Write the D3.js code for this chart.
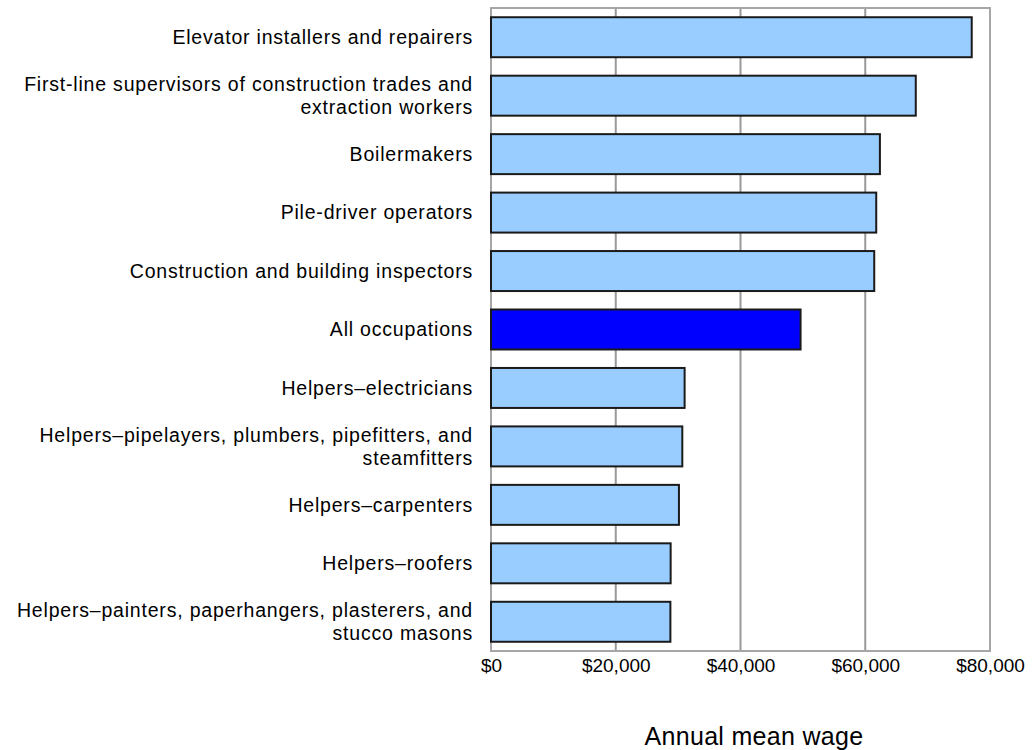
<!DOCTYPE html>
<html><head><meta charset="utf-8">
<script src="https://cdn.jsdelivr.net/npm/d3@7"></script>
<style>
html,body{margin:0;padding:0;background:#fff;}
svg{display:block;}
text{font-family:Arial,"Liberation Sans",sans-serif;fill:#000;}
</style></head>
<body><svg id="chart" width="1034" height="750"></svg>
<script>
const categories = [
  "Elevator installers and repairers",
  "First-line supervisors of construction trades and\nextraction workers",
  "Boilermakers",
  "Pile-driver operators",
  "Construction and building inspectors",
  "All occupations",
  "Helpers\u2013electricians",
  "Helpers\u2013pipelayers, plumbers, pipefitters, and\nsteamfitters",
  "Helpers\u2013carpenters",
  "Helpers\u2013roofers",
  "Helpers\u2013painters, paperhangers, plasterers, and\nstucco masons"
];
const wages = [77070, 68100, 62350, 61760, 61440, 49630, 31040, 30670, 30130, 28800, 28760];
const highlight = ["All occupations"];
const tickValues = [0, 20000, 40000, 60000, 80000];
const tickLabels = ["$0", "$20,000", "$40,000", "$60,000", "$80,000"];
const axisTitle = "Annual mean wage";

const svg = d3.select("#chart");
const L = 491, R = 990, T = 8, B = 651;
const x = d3.scaleLinear().domain([0, 80000]).range([L, R]);
const y = d3.scaleBand().domain(categories).range([T, B]).paddingInner(0.316).paddingOuter(0.158);

// gridlines
svg.append("g").selectAll("line").data(tickValues.slice(1, -1)).join("line")
  .attr("x1", d => x(d)).attr("x2", d => x(d)).attr("y1", T).attr("y2", B)
  .attr("stroke", "#999").attr("stroke-width", 2);

// plot border
svg.append("rect").attr("x", L).attr("y", T).attr("width", R - L).attr("height", B - T)
  .attr("fill", "none").attr("stroke", "#a6a6a6").attr("stroke-width", 2);

// bars
svg.append("g").selectAll("rect").data(categories).join("rect")
  .attr("x", x(0)).attr("y", d => y(d))
  .attr("width", (d, i) => x(wages[i]) - x(0)).attr("height", y.bandwidth())
  .attr("fill", d => highlight.includes(d) ? "#0000ff" : "#99ccff")
  .attr("stroke", "#1a1a1a").attr("stroke-width", 2);

// category labels
const lab = svg.append("g").selectAll("text").data(categories).join("text")
  .attr("text-anchor", "end").attr("font-size", 19.5).attr("letter-spacing", 0.8);
lab.each(function(d) {
  const lines = d.split("\n");
  const cy = y(d) + y.bandwidth() / 2;
  const lh = 23;
  const t = d3.select(this);
  lines.forEach((ln, k) => {
    t.append("tspan").attr("x", 473)
      .attr("y", cy + (k - (lines.length - 1) / 2) * lh)
      .attr("dy", "0.35em").text(ln);
  });
});

// x axis tick labels
const xAxis = d3.axisBottom(x).tickValues(tickValues)
  .tickFormat((d, i) => tickLabels[i]).tickSize(0).tickPadding(0);
const ax = svg.append("g").attr("transform", `translate(0,${B})`).call(xAxis);
ax.select(".domain").remove();
ax.selectAll("text").attr("font-size", 19).attr("font-family", "Arial, 'Liberation Sans', sans-serif")
  .attr("fill", "#000").attr("dy", null).attr("y", 21);

// axis title
svg.append("text").attr("x", 754).attr("y", 745).attr("text-anchor", "middle")
  .attr("font-size", 25).attr("letter-spacing", 0.3).text(axisTitle);
</script></body></html>
